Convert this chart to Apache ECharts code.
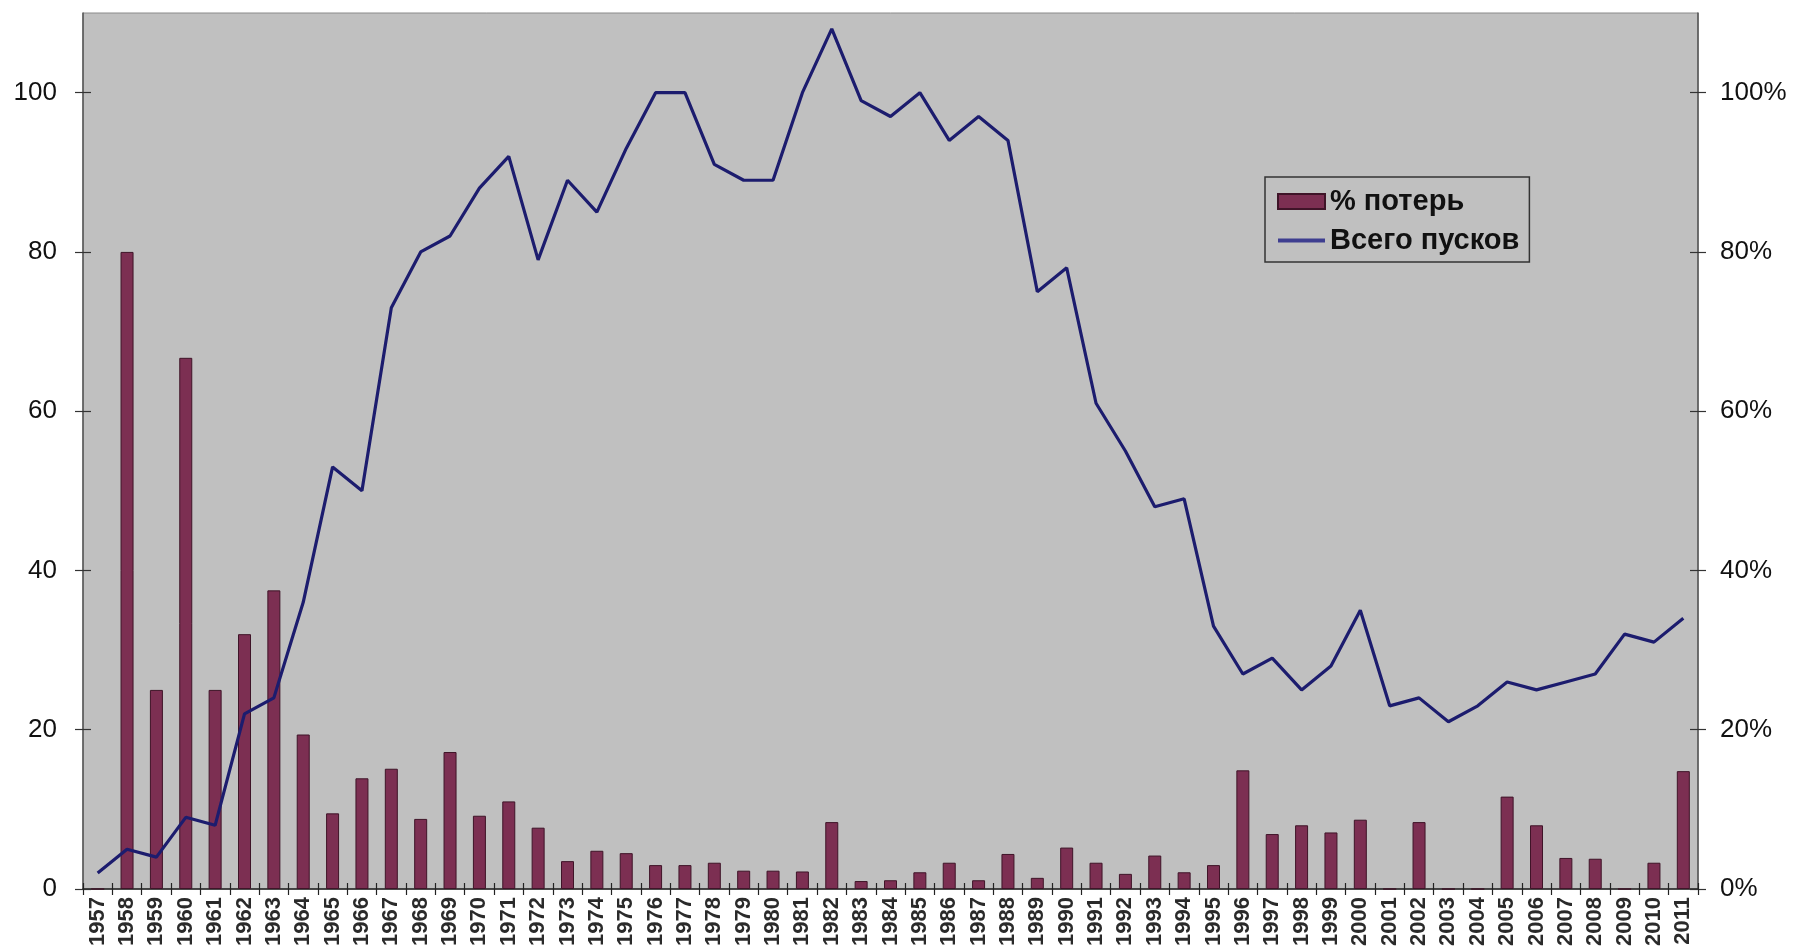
<!DOCTYPE html>
<html>
<head>
<meta charset="utf-8">
<script src="https://cdn.jsdelivr.net/npm/echarts@6/dist/echarts.min.js"></script>
<style>
  html, body { margin: 0; padding: 0; background: #ffffff; }
  #chart { width: 1801px; height: 952px; }
</style>
</head>
<body>
<div id="chart"></div>
<script>
const years = ['1957','1958','1959','1960','1961','1962','1963','1964','1965','1966',
  '1967','1968','1969','1970','1971','1972','1973','1974','1975','1976',
  '1977','1978','1979','1980','1981','1982','1983','1984','1985','1986',
  '1987','1988','1989','1990','1991','1992','1993','1994','1995','1996',
  '1997','1998','1999','2000','2001','2002','2003','2004','2005','2006',
  '2007','2008','2009','2010','2011'];

// % потерь (right axis, percent)
const lossPct = [0, 80, 25, 66.7, 25, 32, 37.5, 19.4, 9.5, 13.9,
  15.1, 8.8, 17.2, 9.2, 11, 7.7, 3.5, 4.8, 4.5, 3,
  3, 3.3, 2.3, 2.3, 2.2, 8.4, 1, 1.1, 2.1, 3.3,
  1.1, 4.4, 1.4, 5.2, 3.3, 1.9, 4.2, 2.1, 3, 14.9,
  6.9, 8, 7.1, 8.7, 0, 8.4, 0, 0, 11.6, 8,
  3.9, 3.8, 0, 3.3, 14.8];

// Всего пусков (left axis)
const launches = [2, 5, 4, 9, 8, 22, 24, 36, 53, 50,
  73, 80, 82, 88, 92, 79, 89, 85, 93, 100,
  100, 91, 89, 89, 100, 108, 99, 97, 100, 94,
  97, 94, 75, 78, 61, 55, 48, 49, 33, 27,
  29, 25, 28, 35, 23, 24, 21, 23, 26, 25,
  26, 27, 32, 31, 34];

const yTicks = [0, 20, 40, 60, 80, 100];
const seriesNames = ['% потерь', 'Всего пусков'];

const FONT = 'Liberation Sans, Arial, sans-serif';
const chart = echarts.init(document.getElementById('chart'), null, { renderer: 'canvas' });

const yBase = {
  type: 'value', min: 0, max: 110, interval: 20,
  splitLine: { show: false }
};

chart.setOption({
  animation: false,
  backgroundColor: '#ffffff',
  grid: {
    left: 83, right: 103, top: 13, bottom: 63,
    show: true, backgroundColor: '#c0c0c0', borderColor: '#8a8a8a', borderWidth: 1
  },
  legend: {
    orient: 'vertical',
    left: 1265, top: 177,
    padding: [10, 10, 7, 12],
    itemGap: 10,
    itemWidth: 47, itemHeight: 15,
    symbolKeepAspect: true,
    borderColor: '#333', borderWidth: 1.5,
    textStyle: { fontFamily: FONT, fontSize: 29, fontWeight: 'bold', color: '#111' },
    data: [
      { name: seriesNames[0], icon: 'rect' },
      { name: seriesNames[1], icon: 'path://M0,0 L47,0 L47,4 L0,4 Z', itemStyle: { color: '#3e3e90' } }
    ]
  },
  xAxis: [
    {
      type: 'category', data: years, position: 'bottom', boundaryGap: true,
      axisLine: { show: true, lineStyle: { color: '#222', width: 1.5 } },
      axisTick: { show: true, length: 6, interval: 0, lineStyle: { color: '#222', width: 1.2 } },
      axisLabel: { interval: 0, rotate: 90, margin: 8, fontFamily: FONT, fontSize: 22, fontWeight: 'bold', color: '#2a2a2a' },
      splitLine: { show: false }
    },
    {
      type: 'category', data: years, position: 'bottom', boundaryGap: true,
      axisLine: { show: false },
      axisTick: { show: true, inside: true, length: 6, interval: 0, lineStyle: { color: '#222', width: 1.2 } },
      axisLabel: { show: false },
      splitLine: { show: false }
    }
  ],
  yAxis: [
    Object.assign({}, yBase, {
      position: 'left',
      axisLine: { show: true, lineStyle: { color: '#555', width: 1.5 } },
      axisTick: { show: true, length: 8, customValues: yTicks, lineStyle: { color: '#333', width: 1.2 } },
      axisLabel: { customValues: yTicks, margin: 26, fontFamily: FONT, fontSize: 26, color: '#111' }
    }),
    Object.assign({}, yBase, {
      position: 'right',
      axisLine: { show: true, lineStyle: { color: '#555', width: 1.5 } },
      axisTick: { show: true, length: 8, customValues: yTicks, lineStyle: { color: '#333', width: 1.2 } },
      axisLabel: { customValues: yTicks, margin: 22, fontFamily: FONT, fontSize: 26, color: '#111', formatter: '{value}%' }
    }),
    Object.assign({}, yBase, {
      position: 'left',
      axisLine: { show: false },
      axisTick: { show: true, inside: true, length: 8, customValues: yTicks, lineStyle: { color: '#333', width: 1.2 } },
      axisLabel: { show: false }
    }),
    Object.assign({}, yBase, {
      position: 'right',
      axisLine: { show: false },
      axisTick: { show: true, inside: true, length: 8, customValues: yTicks, lineStyle: { color: '#333', width: 1.2 } },
      axisLabel: { show: false }
    })
  ],
  series: [
    {
      name: seriesNames[0], type: 'bar', xAxisIndex: 0, yAxisIndex: 1,
      data: lossPct, barWidth: 13,
      itemStyle: { color: '#7c2f52', borderColor: '#3f1428', borderWidth: 1 }
    },
    {
      name: seriesNames[1], type: 'line', xAxisIndex: 0, yAxisIndex: 0,
      data: launches, symbol: 'none', z: 3,
      lineStyle: { color: '#1c1c6e', width: 3.2 },
      itemStyle: { color: '#1c1c6e' }
    }
  ]
});
</script>
</body>
</html>
